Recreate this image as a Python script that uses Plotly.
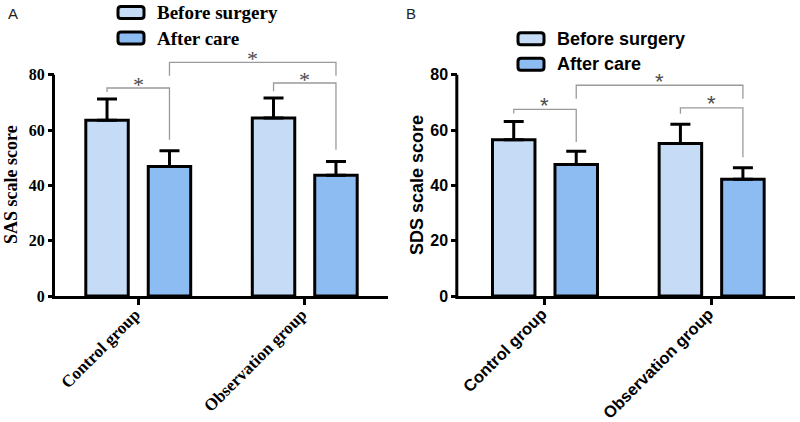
import plotly.graph_objects as go

W, H = 800, 422

# ---------------- data ----------------
GROUPS = ["Control group", "Observation group"]
SERIES = ["Before surgery", "After care"]
COLORS = ["#c6dcf6", "#8dbcf3"]

SAS_BEFORE = [63.5, 64.4]
SAS_BEFORE_SD = [7.7, 7.2]
SAS_AFTER = [46.8, 43.7]
SAS_AFTER_SD = [5.7, 4.9]

SDS_BEFORE = [56.5, 55.1]
SDS_BEFORE_SD = [6.6, 7.0]
SDS_AFTER = [47.5, 42.2]
SDS_AFTER_SD = [4.8, 4.2]

Y_TICKS = [0, 20, 40, 60, 80]

# significance brackets: (group_a, series_a, group_b, series_b, top, end_a, end_b)
SAS_BRACKETS = [(0, 0, 0, 1, 75.2, 73.8, 56.5),
                (0, 1, 1, 1, 84.5, 79.6, 79.6),
                (1, 0, 1, 1, 77.0, 74.0, 52.9)]
SDS_BRACKETS = [(0, 0, 0, 1, 67.5, 66.0, 55.7),
                (0, 1, 1, 1, 76.2, 71.3, 71.3),
                (1, 0, 1, 1, 68.0, 65.9, 50.2)]

# ---------------- layout helpers ----------------
BARGAP = 0.25
GROUPGAP = 0.32
SLOT = (1 - BARGAP) / 2
OFFS = [-SLOT / 2, SLOT / 2]
Y_RANGE = [0, 88]
Y_DOM = [1 - 296 / H, 1 - 52.6 / H]

SERIF = "Liberation Serif"
SANS = "Liberation Sans"

panels = [
    dict(xa="x", ya="y", xdom=[55 / W, 388 / W], xr=[-0.5, 1.5], font=SERIF,
         before=SAS_BEFORE, bsd=SAS_BEFORE_SD, after=SAS_AFTER, asd=SAS_AFTER_SD,
         brackets=SAS_BRACKETS, title="SAS scale score", title_x=11, label="A", label_x=6,
         leg_box_x=118, leg_text_x=155, leg_y=[12.5, 38], leg_size=19, tick_size=16,
         title_size=18, xtick_size=17),
    dict(xa="x2", ya="y2", xdom=[458.3 / W, 795 / W], xr=[-0.52, 1.5], font=SANS,
         before=SDS_BEFORE, bsd=SDS_BEFORE_SD, after=SDS_AFTER, asd=SDS_AFTER_SD,
         brackets=SDS_BRACKETS, title="SDS scale score", title_x=417, label="B", label_x=404,
         leg_box_x=518, leg_text_x=555, leg_y=[38.8, 64.2], leg_size=18, tick_size=16,
         title_size=18, xtick_size=16.5),
]


def yp(v):
    return Y_DOM[0] + (v - Y_RANGE[0]) / (Y_RANGE[1] - Y_RANGE[0]) * (Y_DOM[1] - Y_DOM[0])


def rrect(x0, y0, x1, y1, r):
    X = lambda x: x / W
    Y = lambda y: 1 - y / H
    return (f"M{X(x0 + r)},{Y(y0)} L{X(x1 - r)},{Y(y0)} Q{X(x1)},{Y(y0)} {X(x1)},{Y(y0 + r)} "
            f"L{X(x1)},{Y(y1 - r)} Q{X(x1)},{Y(y1)} {X(x1 - r)},{Y(y1)} "
            f"L{X(x0 + r)},{Y(y1)} Q{X(x0)},{Y(y1)} {X(x0)},{Y(y1 - r)} "
            f"L{X(x0)},{Y(y0 + r)} Q{X(x0)},{Y(y0)} {X(x0 + r)},{Y(y0)} Z")


fig = go.Figure()
shapes = []
annotations = []

for p in panels:
    vals = [p["before"], p["after"]]
    sds = [p["bsd"], p["asd"]]
    for s in range(2):
        fig.add_trace(go.Bar(
            x=[0, 1], y=vals[s], name=SERIES[s], xaxis=p["xa"], yaxis=p["ya"],
            marker=dict(color=COLORS[s], line=dict(color="black", width=3)),
            error_y=dict(type="data", array=sds[s], arrayminus=[0, 0], symmetric=False,
                         thickness=3, width=10, color="black"),
            showlegend=False,
        ))
    # brackets
    for ga, sa, gb, sb, top, ea, eb in p["brackets"]:
        xa_ = ga + OFFS[sa]
        xb_ = gb + OFFS[sb]
        shapes.append(dict(type="path", xref=p["xa"], yref=p["ya"],
                           path=f"M{xa_},{ea} L{xa_},{top} L{xb_},{top} L{xb_},{eb}",
                           line=dict(color="#9a9a9a", width=1.3)))
        annotations.append(dict(x=(xa_ + xb_) / 2, y=top, xref=p["xa"], yref=p["ya"],
                                text="*", showarrow=False, yanchor="middle", yshift=4,
                                font=dict(family=p["font"], size=22, color="#4a4a4a")))
    # y axis line (0 to 80)
    xline = p["xdom"][0] - 1.5 / W
    shapes.append(dict(type="line", xref="paper", yref="paper", x0=xline, x1=xline,
                       y0=Y_DOM[0] - 3 / H, y1=yp(Y_TICKS[-1]),
                       line=dict(color="black", width=3)))
    # axis title
    annotations.append(dict(x=p["title_x"] / W, y=1 - 185 / H, xref="paper", yref="paper",
                            text=p["title"], textangle=-90, showarrow=False,
                            xanchor="center", yanchor="middle",
                            font=dict(family=p["font"], size=p["title_size"], color="black",
                                      weight="bold")))
    # panel label
    annotations.append(dict(x=p["label_x"] / W, y=1 - 13 / H, xref="paper", yref="paper",
                            text=p["label"], showarrow=False, xanchor="left", yanchor="middle",
                            font=dict(family=SANS, size=15, color="#222222")))
    # legend
    for s in range(2):
        cy = p["leg_y"][s]
        bx = p["leg_box_x"]
        shapes.append(dict(type="path", xref="paper", yref="paper",
                           path=rrect(bx, cy - 6, bx + 26, cy + 6, 3),
                           fillcolor=COLORS[s], line=dict(color="black", width=3)))
        annotations.append(dict(x=p["leg_text_x"] / W, y=1 - cy / H, xref="paper", yref="paper",
                                text=SERIES[s], showarrow=False, xanchor="left", yanchor="middle",
                                font=dict(family=p["font"], size=p["leg_size"], color="black",
                                          weight="bold")))

layout_axes = {}
for i, p in enumerate(panels):
    sx = "" if i == 0 else str(i + 1)
    layout_axes["xaxis" + sx] = dict(
        domain=p["xdom"], range=p["xr"], anchor=p["ya"], tickvals=[0, 1], ticktext=GROUPS,
        tickangle=-45, ticks="outside", ticklen=6, tickwidth=3, tickcolor="black",
        ticklabelstandoff=-7, ticklabelshift=-3,
        showline=True, linecolor="black", linewidth=3, showgrid=False, zeroline=False,
        tickfont=dict(family=p["font"], size=p["xtick_size"], color="black", weight="bold"),
        fixedrange=True, automargin=False,
    )
    layout_axes["yaxis" + sx] = dict(
        domain=Y_DOM, range=Y_RANGE, anchor=p["xa"], tickvals=Y_TICKS,
        ticks="outside", ticklen=6, tickwidth=3, tickcolor="black",
        showline=False, showgrid=False, zeroline=False,
        tickfont=dict(family=p["font"], size=p["tick_size"], color="black", weight="bold"),
        fixedrange=True, automargin=False,
    )

fig.update_layout(
    width=W, height=H, autosize=False, margin=dict(l=0, r=0, t=0, b=0, pad=0),
    paper_bgcolor="white", plot_bgcolor="white",
    barmode="group", bargap=BARGAP, bargroupgap=GROUPGAP,
    shapes=shapes, annotations=annotations, showlegend=False,
    **layout_axes,
)

fig.write_html("out.html",
               config={"displayModeBar": False, "responsive": False},
               post_script="document.body.style.margin='0';document.body.style.overflow='hidden';")
